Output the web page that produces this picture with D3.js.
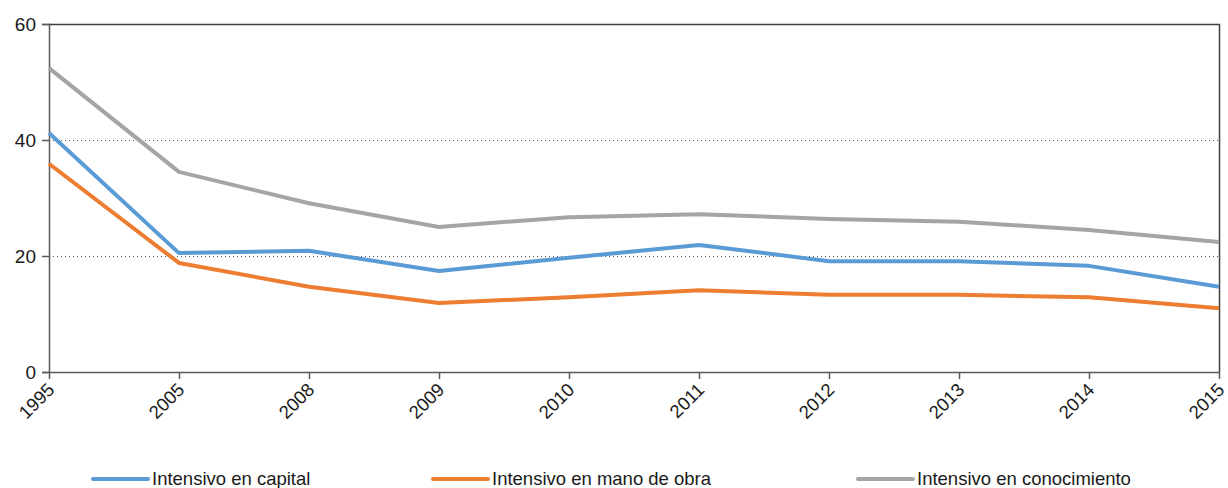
<!DOCTYPE html>
<html>
<head>
<meta charset="utf-8">
<script src="https://cdn.jsdelivr.net/npm/d3@7"></script>
<style>
  html, body { margin: 0; padding: 0; background: #fff; }
  svg { display: block; font-family: "Liberation Sans", Arial, sans-serif; }
</style>
</head>
<body>
<svg id="chart" width="1228" height="488"></svg>
<script>
// Years on the horizontal axis
const years = ["1995", "2005", "2008", "2009", "2010", "2011", "2012", "2013", "2014", "2015"];

// Series values
const capital = [41.2, 20.5, 20.9, 17.4, 19.7, 21.9, 19.1, 19.1, 18.3, 14.7];
const manoObra = [35.9, 18.8, 14.7, 11.9, 12.9, 14.1, 13.3, 13.3, 12.9, 11.0];
const conocimiento = [52.4, 34.5, 29.1, 25.0, 26.7, 27.2, 26.4, 25.9, 24.5, 22.4];

const seriesNames = ["Intensivo en capital", "Intensivo en mano de obra", "Intensivo en conocimiento"];
const yTicks = [0, 20, 40, 60];

const series = [
  { name: seriesNames[0], values: capital, color: "#5b9bd5" },
  { name: seriesNames[1], values: manoObra, color: "#ed7d31" },
  { name: seriesNames[2], values: conocimiento, color: "#a5a5a5" }
];

const svg = d3.select("#chart");
const m = { left: 49, right: 1219, top: 24, bottom: 372 };

const x = d3.scalePoint().domain(years).range([m.left, m.right]);
const y = d3.scaleLinear().domain([0, 60]).range([m.bottom, m.top]);

const axisColor = "#595959";
const labelFont = "Liberation Sans, Arial, sans-serif";

// Dotted horizontal gridlines
svg.append("g")
  .selectAll("line")
  .data([20, 40])
  .join("line")
  .attr("x1", m.left).attr("x2", m.right)
  .attr("y1", d => y(d) + 0.5).attr("y2", d => y(d) + 0.5)
  .attr("stroke", "#595959")
  .attr("stroke-width", 1)
  .attr("stroke-dasharray", "1,3");

// Frame: top and right edges
svg.append("path")
  .attr("d", `M${m.left},${m.top + 0.5}H${m.right + 0.5}V${m.bottom}`)
  .attr("fill", "none")
  .attr("stroke", "#404040")
  .attr("stroke-width", 1.5);

// Y axis
const yAxis = svg.append("g")
  .attr("transform", `translate(${m.left},0)`)
  .call(d3.axisLeft(y).tickValues(yTicks).tickSize(7).tickPadding(6));
yAxis.select(".domain").attr("stroke", axisColor).attr("stroke-width", 1.5);
yAxis.selectAll(".tick line").attr("stroke", axisColor).attr("stroke-width", 1.5);
yAxis.selectAll(".tick text")
  .attr("fill", "#1a1a1a")
  .style("font-size", "19px")
  .style("font-family", labelFont);

// X axis
const xAxis = svg.append("g")
  .attr("transform", `translate(0,${m.bottom})`)
  .call(d3.axisBottom(x).tickSize(7).tickSizeOuter(0));
xAxis.select(".domain").attr("stroke", axisColor).attr("stroke-width", 1.5);
xAxis.selectAll(".tick line").attr("stroke", axisColor).attr("stroke-width", 1.5);
xAxis.selectAll(".tick text")
  .attr("fill", "#1a1a1a")
  .style("font-size", "18.5px")
  .style("font-family", labelFont)
  .attr("text-anchor", "end")
  .attr("dy", null)
  .attr("y", 0)
  .attr("transform", "translate(6,19) rotate(-45)");

// Series lines
const line = d3.line()
  .x((d, i) => x(years[i]))
  .y(d => y(d));

svg.append("g")
  .selectAll("path")
  .data(series)
  .join("path")
  .attr("d", d => line(d.values))
  .attr("fill", "none")
  .attr("stroke", d => d.color)
  .attr("stroke-width", 4)
  .attr("stroke-linejoin", "round");

// Legend
const legendX = [93, 433, 858];
const lg = svg.append("g")
  .selectAll("g")
  .data(series)
  .join("g")
  .attr("transform", (d, i) => `translate(${legendX[i]},479)`);
lg.append("line")
  .attr("x1", 0).attr("x2", 55)
  .attr("stroke", d => d.color)
  .attr("stroke-width", 4)
  .attr("stroke-linecap", "round");
lg.append("text")
  .attr("x", 59)
  .attr("dy", "0.35em")
  .attr("fill", "#1a1a1a")
  .style("font-size", "18.5px")
  .text(d => d.name);
</script>
</body>
</html>
